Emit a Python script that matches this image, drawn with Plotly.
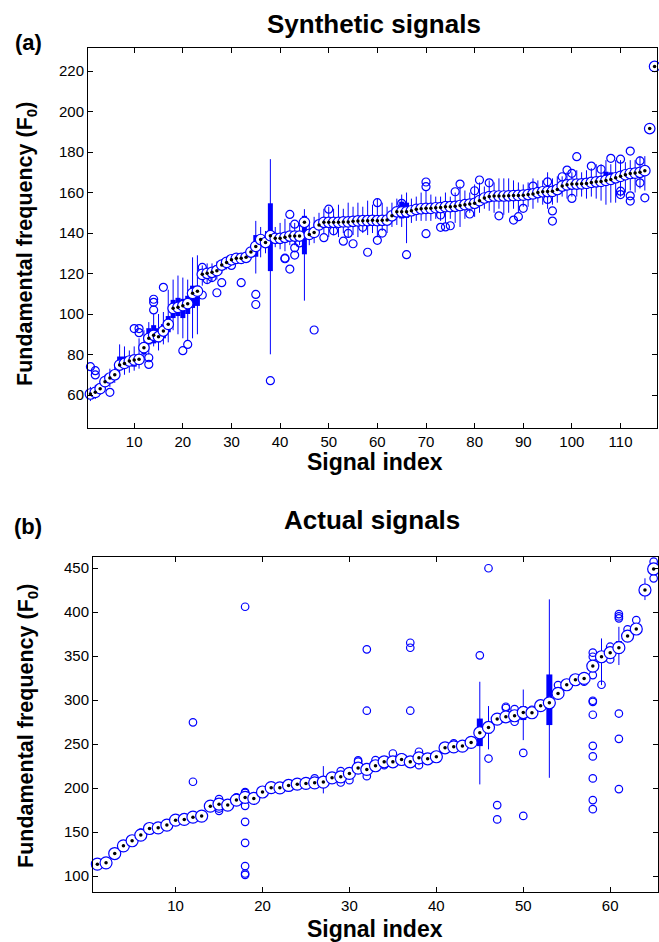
import plotly.graph_objects as go

W, H = 659, 942

# ---------------- Panel (a): synthetic signals ----------------
a_idx = list(range(1, 118))
a_med = [60.5, 61.3, 63.1, 66.6, 68.4, 70.0, 74.8, 75.6, 76.8, 77.3,
         77.6, 83.4, 88.0, 89.5, 88.8, 91.6, 94.9, 102.8, 103.3, 104.1,
         105.1, 110.2, 111.3, 119.6, 120.1, 120.6, 121.4, 124.2, 125.5, 126.8,
         127.5, 127.5, 128.0, 130.6, 133.4, 136.8, 135.3, 138.7, 137.4, 137.4,
         137.9, 138.5, 138.5, 138.5, 145.3, 139.3, 140.3, 144.0, 145.3, 145.3,
         145.3, 145.3, 145.5, 145.5, 145.8, 146.0, 146.1, 146.1, 146.3, 146.1,
         146.3, 146.4, 148.5, 150.5, 150.5, 150.5, 151.0, 151.7, 152.0, 152.2,
         152.2, 152.5, 152.6, 153.0, 153.0, 153.2, 153.6, 154.0, 154.3, 154.7,
         156.0, 157.3, 158.0, 158.3, 158.3, 158.3, 158.4, 158.5, 158.6, 158.7,
         159.0, 159.3, 160.0, 160.4, 160.5, 160.6, 161.5, 163.2, 163.8, 164.2,
         164.2, 164.3, 164.5, 165.0, 165.3, 165.5, 166.0, 166.5, 167.3, 168.0,
         168.8, 169.4, 169.6, 170.0, 170.8, 191.6, 222.3]
a_wlo = [57, 58, 60, 63, 64, 66, 69, 70, 71, 72,
         73, 76, 80, 84, 82, 85, 86, 92, 90, 88,
         87, 88, 90, 114, 115, 116, 117, 120, 122, 124,
         125, 125, 126, 127, 120, 128, 130, 80.1, 133, 132,
         131, 134, 134, 134, 106.6, 134, 135, 140, 140, 138,
         139, 138, 140, 138, 139, 138, 140, 139, 140, 138,
         141, 140, 143, 144, 143, 135, 145, 146, 146, 146,
         146, 147, 146, 145, 147, 145, 143, 147, 150, 148,
         150, 152, 151, 150, 152, 149, 150, 152, 150, 153,
         153, 152, 155, 154, 152, 154, 155, 158, 157, 158,
         158, 158, 157, 158, 157, 156, 154, 155, 155, 158,
         160, 161, 160, 162, 161, 191.6, 222.3]
a_whi = [64, 65, 67, 70, 73, 74, 85, 84, 82, 84,
         88, 92, 96, 100, 100, 101, 112, 117, 119, 118,
         117, 128, 129, 124, 125, 125, 126, 127, 128, 129,
         130, 130, 131, 134, 146, 143, 141, 176.5, 143, 145,
         147, 145, 145, 144, 151.8, 146, 148, 150, 152, 153,
         152, 154, 152, 155, 153, 155, 153, 156, 154, 157,
         155, 153, 155, 157, 159, 160, 157, 158, 160, 161,
         159, 158, 158, 160, 158, 160, 163, 161, 160, 164,
         165, 163, 166, 165, 167, 167, 167, 166, 165, 164,
         165, 167, 166, 166, 170, 167, 168, 168, 170, 170,
         171, 170, 171, 172, 174, 174, 176, 174, 176, 176,
         175, 176, 176, 178, 178, 191.6, 222.3]
a_box_idx = [7, 8, 9, 10, 11, 12, 13, 14, 15, 16, 17, 18, 19, 20, 21, 22, 23,
             34, 35, 38, 45, 58, 59, 65, 66, 106, 107, 108, 109]
a_box_q1 = [74, 74, 74.5, 74, 75, 80, 85, 85.5, 86, 88, 91, 98, 99, 98, 100, 103, 104,
            128, 128.3, 121.2, 129.5, 145, 144, 147.2, 147.5, 164, 163.7, 164, 165]
a_box_q3 = [79, 79, 79, 80, 80, 86, 93, 94.5, 93, 95, 99, 107, 108, 107.5, 109, 114, 114,
            133, 139, 154.7, 148.5, 148, 147.5, 155.5, 155, 168, 170.3, 170, 169]
a_out_x = [1, 2, 2, 5, 10, 11, 11, 13, 13, 14, 14, 14, 16, 20, 21, 24, 24, 25, 26, 27,
           27, 28, 30, 32, 35, 35, 38, 41, 41, 42, 42, 43, 43, 43, 44, 47, 49, 50, 51,
           53, 54, 55, 57, 58, 60, 60, 61, 65, 66, 70, 70, 70, 73, 73, 74, 75, 76, 77,
           79, 80, 81, 83, 85, 88, 89, 90, 92, 95, 95, 96, 96, 98, 99, 100, 100, 101,
           104, 106, 108, 110, 110, 110, 112, 112, 112, 114, 114, 115]
a_out_y = [74.0, 72.0, 69.9, 61.3, 92.8, 92.8, 90.8, 78.4, 75.1, 107.3, 105.8, 102.0,
           113.2, 81.9, 85.0, 109.4, 123.0, 117.0, 118.0, 110.5, 122.0, 115.5, 124.0,
           115.5, 109.7, 104.7, 67.1, 127.3, 127.6, 122.2, 149.2, 129.1, 144.4, 132.7,
           135.1, 92.1, 137.7, 151.8, 141.1, 136.0, 139.8, 134.7, 142.8, 130.5, 155.0,
           136.4, 140.0, 154.7, 129.3, 165.2, 162.9, 139.7, 142.8, 148.9, 143.0, 143.6,
           160.4, 164.2, 149.4, 160.9, 166.2, 164.8, 148.5, 146.4, 148.1, 152.2, 163.2,
           165.3, 156.6, 150.9, 145.9, 167.8, 171.1, 169.5, 157.1, 177.7, 173.1, 171.5,
           176.9, 176.5, 160.7, 159.0, 180.5, 158.4, 155.8, 175.6, 164.8, 157.4]

# ---------------- Panel (b): actual signals ----------------
b_idx = list(range(1, 66))
b_med = [113.6, 115.1, 125.7, 134.4, 140.2, 146.6, 154.1, 154.9, 158.0, 163.6,
         164.4, 167.0, 168.2, 179.5, 181.8, 180.7, 186.4, 189.4, 188.3, 195.6,
         200.5, 200.3, 203.0, 204.5, 205.3, 206.0, 206.8, 211.7, 212.8, 216.7,
         222.7, 221.2, 225.4, 229.9, 229.9, 232.5, 229.9, 234.4, 233.3, 235.6,
         245.8, 246.9, 247.7, 251.9, 262.9, 268.9, 278.4, 281.0, 282.2, 285.9,
         285.6, 293.6, 296.9, 307.6, 317.4, 323.1, 324.6, 338.6, 349.2, 353.8,
         359.5, 372.7, 380.7, 425.0, 448.9]
b_whisk_idx = [11, 17, 25, 27, 36, 38, 45, 46, 50, 53, 59, 61, 64]
b_whisk_lo = [160, 182, 200, 194, 229, 226, 204.2, 244, 254.5, 211.7, 317, 339.8, 413.6]
b_whisk_hi = [168, 191, 212, 225, 238, 241, 320.8, 293.2, 312, 414.4, 370, 383.2, 438.3]
b_box_idx = [45, 46, 50, 53, 59, 61]
b_box_q1 = [247.7, 262, 277.3, 271.6, 345, 353]
b_box_q3 = [279, 273, 293.2, 329.1, 352, 367]
b_out_x = [2, 3, 3, 6, 7, 12, 12, 15, 15, 15, 17, 18, 18, 18, 18, 18, 18, 18, 18, 18,
           26, 29, 29, 30, 31, 31, 32, 32, 32, 33, 34, 35, 36, 37, 37, 37, 38, 38, 42,
           45, 46, 46, 47, 47, 48, 48, 49, 49, 50, 50, 51, 54, 57, 58, 58, 58, 58, 58,
           58, 58, 58, 58, 58, 58, 59, 60, 60, 61, 61, 61, 61, 61, 61, 62, 63, 65, 65]
b_out_y = [114.0, 124.0, 127.0, 149.5, 155.8, 274.7, 207.2, 187.5, 176.8, 174.2, 189.5,
           406.0, 195.5, 194.5, 179.9, 161.7, 137.8, 111.4, 103.0, 101.5, 211.0, 219.3,
           206.4, 209.0, 230.0, 231.5, 357.6, 287.9, 213.6, 231.8, 226.0, 239.3, 234.8,
           365.1, 359.4, 287.9, 241.3, 226.0, 250.8, 350.8, 449.7, 233.6, 180.7, 164.4,
           292.4, 291.0, 289.8, 275.4, 240.0, 168.4, 289.0, 317.0, 320.8, 353.8, 349.2,
           328.4, 299.2, 298.0, 283.3, 248.0, 236.0, 211.0, 186.4, 176.1, 317.4, 360.6,
           346.2, 397.7, 395.0, 392.8, 284.7, 256.0, 198.9, 380.3, 390.9, 457.2, 438.3]

BLUE = "rgb(0,0,255)"
FONT = "Liberation Sans, Arial, Helvetica, sans-serif"


def segs(xs, lo, hi):
    sx, sy = [], []
    for x, a, b in zip(xs, lo, hi):
        sx += [x, x, None]
        sy += [a, b, None]
    return sx, sy


fig = go.Figure()


def add_panel(xa, ya, idx, med, wx, wlo, whi, bx, bq1, bq3, ox, oy, boxw, medsz, outsz):
    sx, sy = segs(wx, wlo, whi)
    fig.add_trace(go.Scatter(x=sx, y=sy, mode="lines", line=dict(color=BLUE, width=1),
                             xaxis=xa, yaxis=ya, hoverinfo="skip", showlegend=False,
                             cliponaxis=False))
    sx, sy = segs(bx, bq1, bq3)
    fig.add_trace(go.Scatter(x=sx, y=sy, mode="lines", line=dict(color=BLUE, width=boxw),
                             xaxis=xa, yaxis=ya, hoverinfo="skip", showlegend=False))
    fig.add_trace(go.Scatter(x=ox, y=oy, mode="markers", cliponaxis=False,
                             marker=dict(symbol="circle-open", size=outsz, color=BLUE,
                                         line=dict(width=1.2, color=BLUE)),
                             xaxis=xa, yaxis=ya, showlegend=False))
    fig.add_trace(go.Scatter(x=idx, y=med, mode="markers", cliponaxis=False,
                             marker=dict(symbol="circle", size=medsz, color="white",
                                         line=dict(width=1.2, color=BLUE)),
                             xaxis=xa, yaxis=ya, showlegend=False))
    fig.add_trace(go.Scatter(x=idx, y=med, mode="markers", cliponaxis=False,
                             marker=dict(symbol="circle", size=3.5, color="black"),
                             xaxis=xa, yaxis=ya, showlegend=False))


add_panel("x", "y", a_idx, a_med, a_idx, a_wlo, a_whi, a_box_idx, a_box_q1, a_box_q3,
          a_out_x, a_out_y, 5, 10.5, 8)
add_panel("x2", "y2", b_idx, b_med, b_whisk_idx, b_whisk_lo, b_whisk_hi, b_box_idx,
          b_box_q1, b_box_q3, b_out_x, b_out_y, 6, 12, 7.5)


def px(x):
    return x / W


def py(y):
    return 1 - y / H


axis_common = dict(showgrid=False, zeroline=False, showline=True, linecolor="black",
                   linewidth=1, mirror="ticks", ticks="inside", ticklen=5,
                   tickcolor="black", tickfont=dict(family=FONT, size=15, color="black"))

fig.update_layout(
    width=W, height=H, margin=dict(l=0, r=0, t=0, b=0),
    paper_bgcolor="white", plot_bgcolor="white", showlegend=False,
    xaxis=dict(domain=[px(88), px(657)], range=[0.5, 117.5], anchor="y",
               tickvals=list(range(10, 111, 10)), **axis_common),
    yaxis=dict(domain=[py(428), py(48)], range=[43.7, 231.4], anchor="x",
               tickvals=list(range(60, 221, 20)), **axis_common),
    xaxis2=dict(domain=[px(93), px(658)], range=[0.5, 65.5], anchor="y2",
                tickvals=list(range(10, 61, 10)), **axis_common),
    yaxis2=dict(domain=[py(892), py(557)], range=[82, 462.5], anchor="x2",
                tickvals=list(range(100, 451, 50)), **axis_common),
)

ann = []


def text(x, y, s, size, angle=0):
    ann.append(dict(x=px(x), y=py(y), xref="paper", yref="paper", text=s,
                    showarrow=False, textangle=angle, xanchor="center", yanchor="middle",
                    font=dict(family=FONT, size=size, color="black")))


text(374, 24, "<b>Synthetic signals</b>", 26)
text(28, 43, "<b>(a)</b>", 22)
text(375, 462, "<b>Signal index</b>", 23)
text(27, 244, "<b>Fundamental frequency (F<sub>0</sub>)</b>", 21.5, -90)
text(372, 520, "<b>Actual signals</b>", 26)
text(28, 526, "<b>(b)</b>", 22)
text(375, 929, "<b>Signal index</b>", 23)
text(27, 726, "<b>Fundamental frequency (F<sub>0</sub>)</b>", 21.5, -90)
fig.update_layout(annotations=ann)

fig.write_html(
    "out.html",
    config={"displayModeBar": False},
    post_script="document.body.style.margin='0';document.body.style.overflow='hidden';",
)
